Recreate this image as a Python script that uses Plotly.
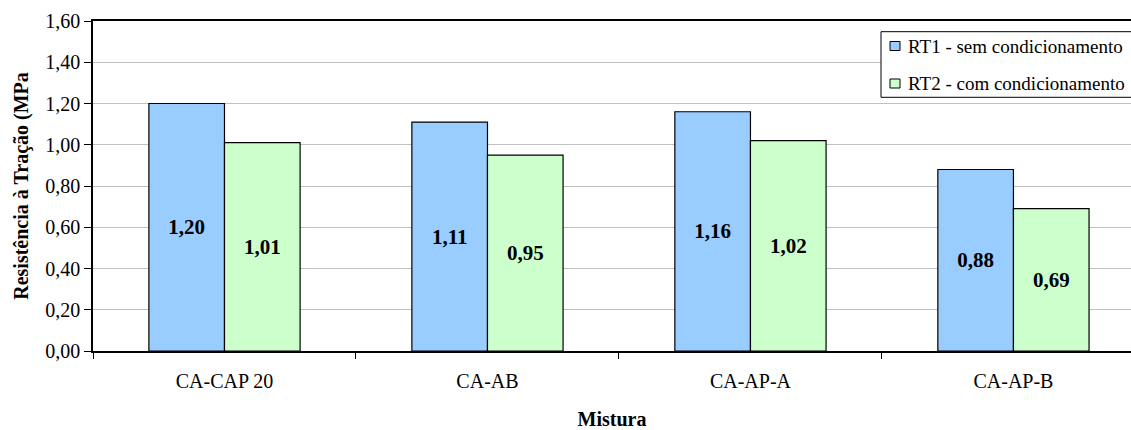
import plotly.graph_objects as go

# Resistência à tração por mistura, com e sem condicionamento
misturas = ["CA-CAP 20", "CA-AB", "CA-AP-A", "CA-AP-B"]
rt1 = [1.20, 1.11, 1.16, 0.88]
rt2 = [1.01, 0.95, 1.02, 0.69]
rt1_nome = "RT1 - sem condicionamento"
rt2_nome = "RT2 - com condicionamento"
y_ticks = [0.0, 0.2, 0.4, 0.6, 0.8, 1.0, 1.2, 1.4, 1.6]

SERIF = "Liberation Serif"
AZUL = "#99CCFF"
VERDE = "#CCFFCC"

W, H = 1131, 430
ML, MR, MT, MB = 93, 0, 21, 79
PW, PH = W - ML - MR, H - MT - MB


def px_x(p):
    return (p - ML) / PW


def px_y(p):
    return (H - MB - p) / PH


def rotulo(v):
    return f"{v:.2f}".replace(".", ",")


fig = go.Figure()
for nome, vals, cor in [(rt1_nome, rt1, AZUL), (rt2_nome, rt2, VERDE)]:
    fig.add_trace(go.Bar(
        x=misturas, y=vals, name=nome,
        marker=dict(color=cor, line=dict(color="black", width=1.2)),
        text=[rotulo(v) for v in vals], textposition="inside",
        insidetextanchor="middle",
        textfont=dict(family=SERIF, size=21, color="black", weight="bold"),
        textangle=0,
    ))

# legenda desenhada à mão (caixa que continua além da borda direita)
shapes = [dict(type="rect", xref="paper", yref="paper",
               x0=px_x(881), x1=px_x(1140), y0=px_y(97.3), y1=px_y(31.7),
               line=dict(color="black", width=1), fillcolor="white", layer="above")]
annotations = []
for nome, cor, yc in [(rt1_nome, AZUL, 46), (rt2_nome, VERDE, 83.5)]:
    shapes.append(dict(type="rect", xref="paper", yref="paper",
                       x0=px_x(890), x1=px_x(900), y0=px_y(yc + 4.5), y1=px_y(yc - 4.5),
                       line=dict(color="black", width=1), fillcolor=cor, layer="above"))
    annotations.append(dict(text=nome, xref="paper", yref="paper",
                            x=px_x(906), y=px_y(yc), xanchor="left", yanchor="middle",
                            showarrow=False, font=dict(family=SERIF, size=19, color="black")))

fig.update_layout(
    width=W, height=H,
    margin=dict(l=ML, r=MR, t=MT, b=MB),
    paper_bgcolor="white", plot_bgcolor="white",
    barmode="group", bargap=0.425, bargroupgap=0,
    separators=",.",
    font=dict(family=SERIF, size=20, color="black"),
    showlegend=False,
    shapes=shapes, annotations=annotations,
    uniformtext=dict(minsize=10, mode="show"),
)

fig.update_xaxes(
    range=[-0.5, 3.447],
    tickson="boundaries", ticks="outside", ticklen=6, tickcolor="black", tickwidth=1,
    ticklabelstandoff=11,
    showline=True, linecolor="black", linewidth=1.6, mirror=True,
    showgrid=False,
    tickfont=dict(family=SERIF, size=20),
    title=dict(text="<b>Mistura</b>", font=dict(family=SERIF, size=20), standoff=22),
)
fig.update_yaxes(
    range=[0, 1.6], tickvals=y_ticks, tickformat=".2f",
    ticks="outside", ticklen=7, tickcolor="black", tickwidth=1,
    showline=True, linecolor="black", linewidth=1.6,
    showgrid=True, gridcolor="#c0c0c0", gridwidth=1,
    zeroline=False,
    tickfont=dict(family=SERIF, size=20),
    title=dict(text="<b>Resistência à Tração (MPa</b>", font=dict(family=SERIF, size=20), standoff=11),
)

fig.write_html("out.html")
